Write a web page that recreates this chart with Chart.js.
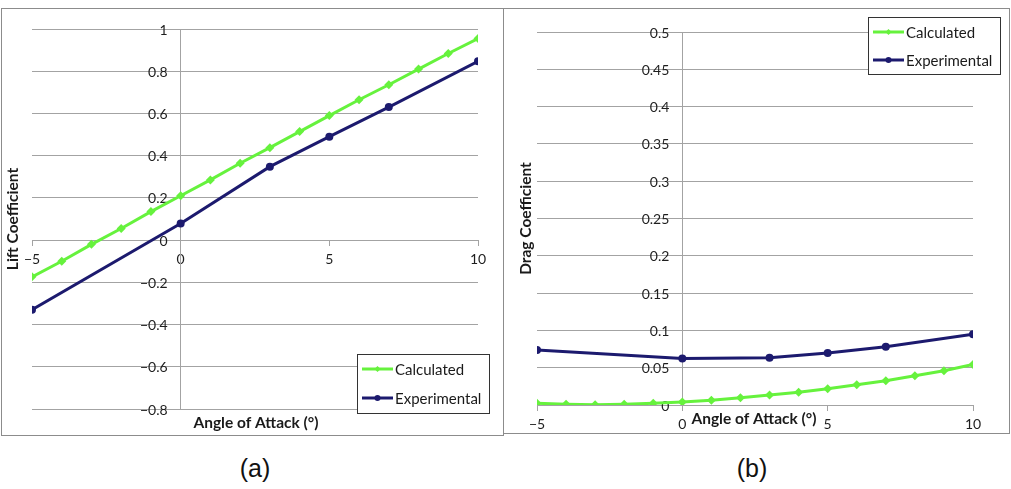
<!DOCTYPE html>
<html>
<head>
<meta charset="utf-8">
<script src="https://cdn.jsdelivr.net/npm/chart.js@4.4.1/dist/chart.umd.min.js"></script>
<style>
  html, body { margin: 0; padding: 0; background: #fff; }
  body { width: 1011px; height: 489px; position: relative; overflow: hidden; }
  .frame { position: absolute; border: 1px solid #8c8c8c; box-sizing: border-box; }
  #frameA { left: 1px; top: 8px; width: 503px; height: 428px; }
  #frameB { left: 503px; top: 8px; width: 507px; height: 426px; }
  .box { position: absolute; }
  #boxA { left: 2px; top: 9px; width: 501px; height: 425px; }
  #boxB { left: 504px; top: 9px; width: 504px; height: 423px; }
  .caption { position: absolute; top: 453px; width: 80px; line-height: 30px; text-align: center;
             font-family: "Liberation Sans", Arial, sans-serif; font-size: 25px; color: #111; }
</style>
</head>
<body>
<div class="frame" id="frameA"></div>
<div class="frame" id="frameB"></div>
<div class="box" id="boxA"><canvas id="liftChart"></canvas></div>
<div class="box" id="boxB"><canvas id="dragChart"></canvas></div>
<div class="caption" style="left:215px">(a)</div>
<div class="caption" style="left:712px">(b)</div>

<script>
// angle of attack (deg) for the calculated curves
var angles = [-5, -4, -3, -2, -1, 0, 1, 2, 3, 4, 5, 6, 7, 8, 9, 10];
// angle of attack for the experimental points
var expAngles = [-5, 0, 3, 5, 7, 10];

var liftCalc = [-0.174, -0.10, -0.02, 0.055, 0.135, 0.21, 0.285, 0.364, 0.438, 0.514, 0.59, 0.665, 0.736, 0.81, 0.884, 0.955];
var liftExp = [-0.33, 0.079, 0.348, 0.49, 0.63, 0.847];

var dragCalc = [0.0023, 0.001, 0.0005, 0.001, 0.0023, 0.004, 0.0063, 0.0098, 0.0134, 0.017, 0.0218, 0.0272, 0.0326, 0.0393, 0.046, 0.0544];
var dragExp = [0.0737, 0.0625, 0.0634, 0.0697, 0.078, 0.0947];

var angleTicks = [-5, 0, 5, 10];
var liftTicks = [-0.8, -0.6, -0.4, -0.2, 0, 0.2, 0.4, 0.6, 0.8, 1];
var dragTicks = [0, 0.05, 0.1, 0.15, 0.2, 0.25, 0.3, 0.35, 0.4, 0.45, 0.5];

var seriesNames = ['Calculated', 'Experimental'];

var GREEN = '#66f23d';
var NAVY = '#1c1a6e';
var GRID = '#a3a3a3';

function toPoints(xs, ys) {
    return xs.map(function(x, i) { return {x: x, y: ys[i]}; });
}

function fmt(v) {
    return String(Number(v.toFixed(3))).replace('-', '\u2212');
}

// y tick labels sit left of the crossing axis (chart.js puts them right on it)
// plus axis titles and the boxed legend, like the excel chart
var decor = {
    id: 'decor',
    beforeDatasetsDraw: function(chart, args, o) {
        var ctx = chart.ctx;
        var ys = chart.scales.y, ax = chart.scales.x.getPixelForValue(0);
        ctx.save();
        ctx.font = '14px Lato';
        ctx.fillStyle = '#1e1e1e';
        ctx.textAlign = 'right';
        ctx.textBaseline = 'middle';
        o.yTicks.forEach(function(v) {
            ctx.fillText(fmt(v), ax - 13, ys.getPixelForValue(v) + 1);
        });
        ctx.restore();
    },
    afterDraw: function(chart, args, o) {
        var ctx = chart.ctx, area = chart.chartArea;
        ctx.save();
        ctx.fillStyle = '#1a1a1a';
        ctx.font = 'bold 15.5px Lato';
        ctx.textAlign = 'center';
        ctx.textBaseline = 'middle';
        ctx.fillText(o.xTitle, o.xTitleX, o.xTitleY);

        ctx.save();
        ctx.translate(o.yTitleX, (area.top + area.bottom) / 2);
        ctx.rotate(-Math.PI / 2);
        ctx.fillText(o.yTitle, 0, 0);
        ctx.restore();

        // legend
        var L = o.legend;
        ctx.fillStyle = '#fff';
        ctx.fillRect(L.x, L.y, L.w, L.h);
        ctx.strokeStyle = '#333';
        ctx.lineWidth = 1;
        ctx.strokeRect(L.x + 0.5, L.y + 0.5, L.w, L.h);
        ctx.font = '15px Lato';
        ctx.textAlign = 'left';
        chart.data.datasets.forEach(function(ds, i) {
            var cy = L.y + L.row0 + i * L.rowGap;
            var x0 = L.x + 5, x1 = x0 + 31;
            ctx.strokeStyle = ds.borderColor;
            ctx.lineWidth = 3;
            ctx.beginPath();
            ctx.moveTo(x0, cy);
            ctx.lineTo(x1, cy);
            ctx.stroke();
            ctx.fillStyle = ds.borderColor;
            Chart.helpers.drawPoint(ctx, {pointStyle: ds.pointStyle, radius: 3, borderWidth: 0}, (x0 + x1) / 2, cy);
            ctx.fillStyle = '#1a1a1a';
            ctx.fillText(ds.label, x1 + 2, cy + 1);
        });
        ctx.restore();
    }
};

function makeChart(id, calc, exp, yTicks, yMin, yMax, pad, decorOpts) {
    var ctx = document.getElementById(id).getContext('2d');
    decorOpts.yTicks = yTicks;
    return new Chart(ctx, {
        type: 'scatter',
        data: {
            datasets: [
                {
                    label: seriesNames[0],
                    data: toPoints(angles, calc),
                    showLine: true,
                    borderColor: GREEN,
                    backgroundColor: GREEN,
                    borderWidth: 3,
                    pointStyle: 'rectRot',
                    pointRadius: 4.5,
                    pointBorderWidth: 0
                },
                {
                    label: seriesNames[1],
                    data: toPoints(expAngles, exp),
                    showLine: true,
                    borderColor: NAVY,
                    backgroundColor: NAVY,
                    borderWidth: 3,
                    pointStyle: 'circle',
                    pointRadius: 4,
                    pointBorderWidth: 0
                }
            ]
        },
        options: {
            responsive: true,
            maintainAspectRatio: false,
            animation: false,
            layout: { padding: pad },
            scales: {
                x: {
                    type: 'linear',
                    min: -5,
                    max: 10,
                    position: { y: 0 },
                    afterBuildTicks: function(s) { s.ticks = angleTicks.map(function(v) { return {value: v}; }); },
                    grid: { drawOnChartArea: false, drawTicks: true, tickLength: 5, color: GRID },
                    border: { color: GRID, width: 1 },
                    ticks: { padding: 6, color: '#1e1e1e', font: { family: 'Lato', size: 14 }, callback: fmt, maxRotation: 0 }
                },
                y: {
                    type: 'linear',
                    min: yMin,
                    max: yMax,
                    position: { x: 0 },
                    afterBuildTicks: function(s) { s.ticks = yTicks.map(function(v) { return {value: v}; }); },
                    grid: { color: GRID, lineWidth: 1, drawTicks: false },
                    border: { color: GRID, width: 1 },
                    ticks: { display: false }
                }
            },
            plugins: {
                legend: { display: false },
                tooltip: { enabled: false },
                decor: decorOpts
            }
        },
        plugins: [decor]
    });
}

makeChart('liftChart', liftCalc, liftExp, liftTicks, -0.8, 1,
    { left: 30, right: 25, top: 20, bottom: 25 },
    {
        xTitle: 'Angle of Attack (\u00b0)', xTitleX: 254, xTitleY: 414,
        yTitle: 'Lift Coefficient', yTitleX: 11,
        legend: { x: 355, y: 345, w: 132, h: 59, row0: 15, rowGap: 29 }
    });

makeChart('dragChart', dragCalc, dragExp, dragTicks, 0, 0.5,
    { left: 33, right: 35, top: 23, bottom: 27 },
    {
        xTitle: 'Angle of Attack (\u00b0)', xTitleX: 250, xTitleY: 410,
        yTitle: 'Drag Coefficient', yTitleX: 22,
        legend: { x: 364, y: 8, w: 132, h: 57, row0: 15, rowGap: 28 }
    });
</script>
</body>
</html>
